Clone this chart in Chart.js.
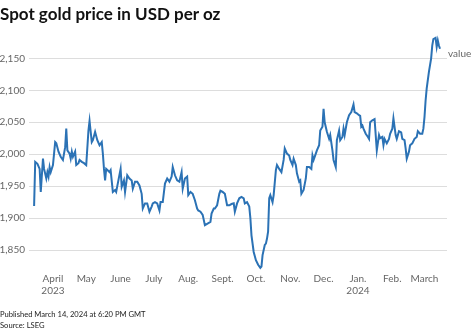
<!DOCTYPE html>
<html>
<head>
<meta charset="utf-8">
<title>Spot gold price</title>
<script src="https://cdn.jsdelivr.net/npm/chart.js@4.4.1/dist/chart.umd.min.js"></script>
<style>
  body { margin: 0; background: #fff; font-family: Lato, "Noto Sans", sans-serif; }
  #wrap { position: relative; width: 474px; height: 333px; overflow: hidden; }
  #title { position: absolute; left: 0; top: 3px; font-size: 17px; font-weight: 700; color: #111; white-space: nowrap; }
  #goldChart { position: absolute; left: 0; top: 0; }
  #note { position: absolute; left: 0; top: 309px; font-size: 7.6px; line-height: 11px; color: #222; white-space: nowrap; }
</style>
</head>
<body>
<div id="wrap">
  <canvas id="goldChart" width="474" height="333"></canvas>
  <div id="title">Spot gold price in USD per oz</div>
  <div id="note">Published March 14, 2024 at 6:20 PM GMT<br>Source: LSEG</div>
</div>
<script>
// days counted from 2023-04-01
const baseDate = Date.UTC(2023, 3, 1);
const days = [
  -17, -16, -14, -12, -11, -9, -8, -6, -5, -4, -3, -2, 0, 2, 3, 5, 7, 9, 11, 12,
  13, 15, 16, 17, 18, 20, 21, 23, 24, 26, 28, 30, 32, 33, 35, 36, 38, 40, 42, 44,
  45, 46, 47, 48, 51, 52, 54, 56, 57, 59, 61, 62, 64, 65, 67, 69, 71, 72, 74, 76,
  78, 80, 81, 83, 85, 87, 89, 90, 92, 94, 96, 97, 99, 101, 103, 105, 107, 108, 110, 112,
  114, 116, 117, 119, 121, 122, 124, 126, 128, 130, 131, 133, 135, 137, 139, 142, 143, 145, 146, 148,
  150, 151, 153, 155, 157, 159, 161, 163, 164, 166, 168, 170, 172, 173, 175, 177, 178, 179, 181, 183,
  185, 187, 188, 189, 191, 192, 193, 194, 195, 196, 198, 199, 201, 202, 204, 206, 208, 209, 211, 213,
  214, 216, 217, 219, 220, 222, 223, 224, 226, 228, 229, 231, 233, 234, 235, 237, 238, 240, 241, 243,
  244, 245, 247, 249, 250, 252, 253, 255, 256, 258, 259, 261, 262, 263, 265, 267, 269, 271, 272, 274,
  276, 277, 278, 279, 280, 282, 284, 285, 286, 288, 290, 292, 294, 295, 297, 298, 299, 301, 303, 304,
  306, 307, 309, 310, 312, 314, 315, 317, 318, 319, 321, 322, 324, 326, 328, 329, 331, 333, 334, 335,
  336, 337, 339, 341, 342, 343, 345, 346, 347, 348, 349
];
const prices = [
  1919, 1988, 1985, 1977, 1941, 1993, 1977, 1962, 1972, 1965, 1980, 1972, 1983, 2019, 2017, 2004, 1996, 1991, 2011, 2040,
  2006, 2001, 1993, 2004, 1996, 2004, 1983, 1986, 1991, 1988, 1986, 1983, 2037, 2052, 2019, 2022, 2035, 2022, 2014, 2019,
  2001, 1977, 1959, 1977, 1972, 1975, 1941, 1944, 1941, 1959, 1977, 1949, 1959, 1941, 1967, 1962, 1959, 1946, 1957, 1957,
  1951, 1938, 1915, 1923, 1923, 1910, 1918, 1923, 1925, 1923, 1912, 1925, 1925, 1954, 1962, 1957, 1965, 1980, 1967, 1959,
  1957, 1972, 1946, 1962, 1965, 1936, 1941, 1938, 1928, 1915, 1912, 1910, 1905, 1889, 1891, 1894, 1907, 1915, 1915, 1920,
  1938, 1943, 1941, 1938, 1920, 1920, 1922, 1923, 1910, 1923, 1931, 1933, 1931, 1923, 1925, 1918, 1900, 1873, 1847, 1834,
  1827, 1822, 1824, 1842, 1858, 1860, 1868, 1879, 1931, 1936, 1925, 1936, 1975, 1983, 1977, 1972, 1991, 2009, 2001, 1998,
  1991, 1983, 1993, 1983, 1970, 1957, 1959, 1938, 1944, 1962, 1980, 1980, 1977, 1998, 1991, 2001, 2006, 2014, 2037, 2043,
  2071, 2050, 2035, 2024, 2030, 2006, 1991, 1980, 2022, 2037, 2022, 2027, 2040, 2030, 2050, 2061, 2066, 2078, 2066, 2064,
  2061, 2060, 2043, 2045, 2040, 2032, 2027, 2024, 2050, 2053, 2055, 2006, 2030, 2025, 2027, 2014, 2024, 2017, 2024, 2032,
  2040, 2056, 2030, 2024, 2036, 2034, 2024, 2022, 2009, 1993, 2004, 2014, 2017, 2024, 2027, 2036, 2032, 2032, 2040, 2058,
  2084, 2103, 2129, 2150, 2170, 2180, 2182, 2168, 2178, 2170, 2165
];
const monthDates = ['2023-04-01', '2023-05-01', '2023-06-01', '2023-07-01', '2023-08-01', '2023-09-01',
  '2023-10-01', '2023-11-01', '2023-12-01', '2024-01-01', '2024-02-01', '2024-03-01'];
const monthLabels = [['April', '2023'], 'May', 'June', 'July', 'Aug.', 'Sept.', 'Oct.', 'Nov.', 'Dec.',
  ['Jan.', '2024'], 'Feb.', 'March'];
const yTicks = [1850, 1900, 1950, 2000, 2050, 2100, 2150];

function dayOf(s) {
  const p = s.split('-').map(Number);
  return Math.round((Date.UTC(p[0], p[1] - 1, p[2]) - baseDate) / 86400000);
}
const monthDays = monthDates.map(dayOf);

const points = days.map((d, i) => ({ x: d, y: prices[i] }));
const tickFont = { family: 'Lato, "Noto Sans", sans-serif', size: 10 };

const endLabel = {
  id: 'endLabel',
  afterDatasetsDraw(chart) {
    const ctx = chart.ctx;
    const y = chart.scales.y.getPixelForValue(prices[prices.length - 1]);
    ctx.save();
    ctx.fillStyle = '#666';
    ctx.font = '10px Lato, "Noto Sans", sans-serif';
    ctx.textBaseline = 'middle';
    ctx.fillText('value', chart.chartArea.right + 1, y + 5);
    ctx.restore();
  }
};

new Chart(document.getElementById('goldChart'), {
  type: 'line',
  data: {
    datasets: [{
      label: 'value',
      data: points,
      borderColor: '#2b72b5',
      borderWidth: 2,
      pointRadius: 0,
      tension: 0,
      clip: false
    }]
  },
  options: {
    responsive: false,
    animation: false,
    layout: { padding: { top: 36, right: 27, bottom: 25.6, left: 0 } },
    plugins: { legend: { display: false }, tooltip: { enabled: false } },
    scales: {
      x: {
        type: 'linear',
        min: -21.6,
        max: 355.3,
        afterFit(scale) { scale.height = 35; },
        afterBuildTicks(scale) { scale.ticks = monthDays.map(v => ({ value: v })); },
        ticks: {
          autoSkip: false,
          maxRotation: 0,
          padding: 0,
          color: '#666',
          font: tickFont,
          callback(value) {
            const i = monthDays.indexOf(value);
            return i >= 0 ? monthLabels[i] : '';
          }
        },
        grid: { display: false, drawTicks: false },
        border: { display: false }
      },
      y: {
        min: 1815,
        max: 2185,
        afterFit(scale) { scale.width = 29; },
        afterBuildTicks(scale) { scale.ticks = yTicks.map(v => ({ value: v })); },
        ticks: {
          padding: 4,
          color: '#666',
          font: tickFont,
          callback(value) {
            const s = value.toLocaleString('en-US');
            return value === 2150 ? '$' + s : s;
          }
        },
        grid: { color: '#dddddd', lineWidth: 1, drawTicks: false },
        border: { display: false }
      }
    }
  },
  plugins: [endLabel]
});
</script>
</body>
</html>
